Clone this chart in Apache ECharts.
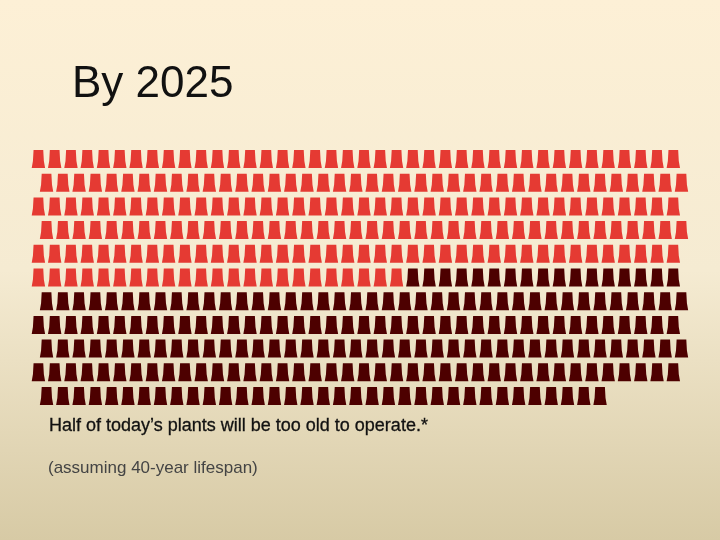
<!DOCTYPE html>
<html><head><meta charset="utf-8">
<style>html,body{margin:0;padding:0}#c{width:720px;height:540px}</style>
<script src="https://cdn.jsdelivr.net/npm/echarts@6/dist/echarts.min.js"></script>
</head><body><div id="c"></div>
<script>
const titleText = 'By 2025';
const headline = 'Half of today\u2019s plants will be too old to operate.*';
const note = '(assuming 40-year lifespan)';
const lightPerRow = [40,40,40,40,40,23,0,0,0,0,0];
const darkPerRow  = [0,0,0,0,0,17,40,40,40,40,35];
const indentedRows = [1,3,6,8,10];

function points(){
  const light=[],dark=[];
  lightPerRow.forEach((n,r)=>{
    const off=indentedRows.includes(r)?0.5:0;
    for(let i=0;i<n;i++) light.push([i+off,r]);
    for(let i=0;i<darkPerRow[r];i++) dark.push([n+i+off,r]);
  });
  return {light,dark};
}
const {light,dark}=points();
const plant='path://M1.8,0 L11.2,0 L11.8,11 L13,18 L0,18 L1.2,11 Z';
const chart=echarts.init(document.getElementById('c'),null,{renderer:'canvas'});
const ser=(name,data,color)=>({name,type:'scatter',data,symbol:plant,symbolSize:[13.4,18],symbolKeepAspect:false,
  itemStyle:{color,opacity:1},silent:true,animation:false});
chart.setOption({
  animation:false,
  backgroundColor:new echarts.graphic.LinearGradient(0,0,0,1,[
    {offset:0,color:'#fdf0d6'},{offset:0.5,color:'#f5ebd2'},{offset:1,color:'#d7caa5'}]),
  grid:{left:38.4,width:651.2,top:159,height:237},
  xAxis:{type:'value',min:0,max:40,show:false},
  yAxis:{type:'value',min:0,max:10,inverse:true,show:false},
  title:[
    {text:titleText,left:67,top:58,textStyle:{fontFamily:'Liberation Sans',fontSize:44,fontWeight:'normal',color:'#111111'}},
    {text:headline,left:44,top:412,textStyle:{fontFamily:'Liberation Sans',fontSize:18,fontWeight:'normal',color:'#111111',textBorderColor:'#111111',textBorderWidth:0.3}},
    {text:note,left:43,top:455,textStyle:{fontFamily:'Liberation Sans',fontSize:17,fontWeight:'normal',color:'#444444'}}
  ],
  series:[ser('Under 40 years',light,'#e53a33'),ser('Too old',dark,'#4d0000')]
});
</script></body></html>
